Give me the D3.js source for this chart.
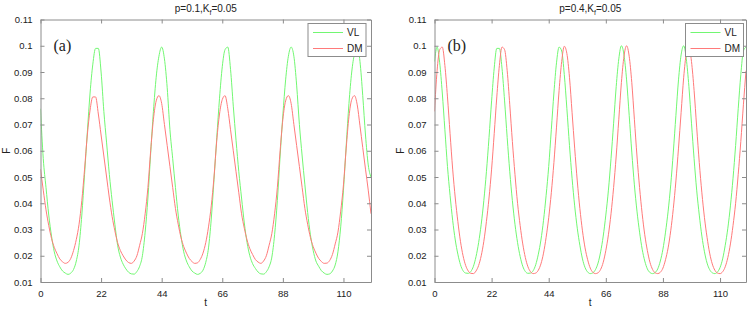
<!DOCTYPE html>
<html>
<head>
<meta charset="utf-8">
<script src="https://cdn.jsdelivr.net/npm/d3@7"></script>
<style>
  body { margin: 0; background: #fff; }
  text { font-family: "Liberation Sans", Arial, sans-serif; }
  text.tag { font-family: "Liberation Serif", "Times New Roman", serif; }
</style>
</head>
<body>
<svg id="chart" width="749" height="310"></svg>
<script>
// time grid (one sample per unit of t)
const tValues = d3.range(0, 121);

// panel (a): p=0.1
const vlA = [
  0.076,0.057,0.046,0.0355,0.0275,0.0215,0.018,0.0158,0.0142,0.0134,
  0.0129,0.0134,0.0148,0.018,0.024,0.0355,0.051,0.067,0.082,0.093,
  0.099,0.099,0.090,0.075,0.063,0.051,0.041,0.032,0.024,0.0195,
  0.0168,0.015,0.0137,0.0131,0.013,0.014,0.016,0.020,0.029,0.042,
  0.059,0.075,0.088,0.096,0.0995,0.095,0.084,0.068,0.057,0.046,
  0.0355,0.0275,0.0215,0.018,0.0158,0.0142,0.0134,0.0129,0.0133,0.0145,
  0.0175,0.023,0.034,0.049,0.065,0.080,0.092,0.0985,0.0995,0.091,
  0.077,0.064,0.052,0.042,0.0325,0.025,0.020,0.017,0.0152,0.0138,
  0.0131,0.0130,0.0139,0.0158,0.0195,0.028,0.041,0.058,0.0736,0.087,
  0.096,0.0995,0.096,0.085,0.070,0.058,0.047,0.0365,0.028,0.022,
  0.018,0.016,0.0143,0.0134,0.0129,0.0131,0.0142,0.0165,0.0215,0.031,
  0.045,0.062,0.078,0.090,0.097,0.100,0.094,0.081,0.066,0.0546,
  0.050
];
const dmA = [
  0.053,0.045,0.0375,0.0315,0.0266,0.0232,0.0208,0.0188,0.0177,0.0171,
  0.0175,0.019,0.022,0.0262,0.032,0.041,0.053,0.066,0.0755,0.0805,
  0.0805,0.074,0.066,0.058,0.050,0.042,0.035,0.0295,0.025,0.022,
  0.020,0.0184,0.0174,0.0171,0.018,0.020,0.024,0.0285,0.036,0.046,
  0.060,0.072,0.079,0.081,0.078,0.070,0.062,0.054,0.046,0.038,
  0.032,0.027,0.0235,0.021,0.019,0.0178,0.0171,0.0173,0.0186,0.021,
  0.025,0.031,0.039,0.050,0.064,0.074,0.0795,0.081,0.076,0.068,
  0.060,0.052,0.044,0.036,0.0305,0.026,0.0227,0.0205,0.0186,0.0176,
  0.0171,0.018,0.020,0.024,0.0285,0.036,0.046,0.060,0.072,0.079,
  0.081,0.078,0.070,0.062,0.054,0.046,0.038,0.032,0.027,0.0235,
  0.021,0.019,0.0178,0.0171,0.0172,0.0182,0.0205,0.0245,0.029,0.037,
  0.047,0.061,0.073,0.0795,0.081,0.0775,0.0695,0.0612,0.053,0.045,
  0.036
];

// panel (b): p=0.4
const vlB = [
  0.094,0.0995,0.0935,0.082,0.068,0.054,0.043,0.0335,0.026,0.0206,
  0.0166,0.0143,0.0134,0.0133,0.014,0.016,0.0197,0.025,0.032,0.041,
  0.052,0.065,0.079,0.0915,0.099,0.099,0.0915,0.079,0.065,0.052,
  0.041,0.032,0.025,0.0197,0.016,0.014,0.0133,0.0134,0.0143,0.0166,
  0.0206,0.026,0.0335,0.043,0.054,0.068,0.082,0.0935,0.0995,0.098,
  0.089,0.076,0.062,0.0495,0.039,0.0305,0.024,0.0188,0.0155,0.0138,
  0.0132,0.0135,0.0147,0.0172,0.0215,0.0275,0.0355,0.045,0.057,0.0705,
  0.0845,0.095,0.100,0.0965,0.087,0.0735,0.0595,0.047,0.037,0.029,
  0.0225,0.018,0.015,0.0136,0.0132,0.0136,0.015,0.018,0.0225,0.029,
  0.037,0.047,0.0595,0.0735,0.087,0.0965,0.100,0.095,0.0845,0.0705,
  0.057,0.045,0.0355,0.0275,0.0215,0.0172,0.0147,0.0135,0.0132,0.0138,
  0.0155,0.0188,0.024,0.0305,0.039,0.0495,0.062,0.076,0.089,0.098,
  0.0995
];
const dmB = [
  0.075,0.0905,0.0985,0.0995,0.0925,0.0805,0.0665,0.053,0.042,0.033,
  0.0255,0.020,0.0163,0.0142,0.0133,0.0132,0.0142,0.0163,0.020,0.0255,
  0.033,0.042,0.053,0.0665,0.0805,0.0925,0.0995,0.0985,0.0905,0.0775,
  0.0635,0.051,0.040,0.0315,0.0245,0.0193,0.0158,0.0139,0.0132,0.0134,
  0.0145,0.0169,0.021,0.027,0.0345,0.044,0.0555,0.069,0.083,0.094,
  0.0998,0.097,0.088,0.0745,0.061,0.0485,0.038,0.0295,0.023,0.0185,
  0.0153,0.0137,0.0132,0.0135,0.0148,0.0175,0.022,0.028,0.036,0.046,
  0.058,0.072,0.086,0.096,0.100,0.096,0.086,0.072,0.058,0.046,
  0.036,0.028,0.022,0.0175,0.0148,0.0135,0.0132,0.0137,0.0153,0.0185,
  0.023,0.0295,0.038,0.0485,0.061,0.0745,0.088,0.097,0.0998,0.094,
  0.083,0.069,0.0555,0.044,0.0345,0.027,0.021,0.0169,0.0145,0.0134,
  0.0132,0.0139,0.0158,0.0193,0.0245,0.0315,0.040,0.051,0.0635,0.0775,
  0.0905
];

const xTicks = [0, 22, 44, 66, 88, 110];
const yTicks = [0.01, 0.02, 0.03, 0.04, 0.05, 0.06, 0.07, 0.08, 0.09, 0.1, 0.11];
const seriesNames = ['VL', 'DM'];
const seriesColors = ['#72f772', '#ff7a7a'];

const svg = d3.select('#chart');
const plotTop = 19.5, plotBottom = 282;
const axisColor = '#8c8c8c';
const labelColor = '#222';

const panels = [
  { left: 40.5, right: 371, p: '0.1', tag: '(a)', vl: vlA, dm: dmA, legX: 308 },
  { left: 434.5, right: 746, p: '0.4', tag: '(b)', vl: vlB, dm: dmB, legX: 685.5 }
];

panels.forEach((pn, i) => {
  const x = d3.scaleLinear().domain([0, 120]).range([pn.left, pn.right]);
  const y = d3.scaleLinear().domain([0.01, 0.11]).range([plotBottom, plotTop]);
  const g = svg.append('g');

  // clip the curves to the plot box
  const clipId = 'clip' + i;
  svg.append('clipPath').attr('id', clipId)
    .append('rect')
    .attr('x', pn.left).attr('y', plotTop)
    .attr('width', pn.right - pn.left).attr('height', plotBottom - plotTop);

  // curves
  const line = d3.line()
    .x((d, j) => x(tValues[j]))
    .y(d => y(d))
    .curve(d3.curveMonotoneX);
  [pn.vl, pn.dm].forEach((vals, k) => {
    g.append('path')
      .attr('d', line(vals))
      .attr('fill', 'none')
      .attr('stroke', seriesColors[k])
      .attr('stroke-width', 1)
      .attr('clip-path', `url(#${clipId})`);
  });

  // axes: bottom/left with labels, top/right ticks only (ticks point inside)
  const fmtY = d => d3.format('.2~f')(d);
  const axB = g.append('g').attr('transform', `translate(0,${plotBottom})`)
    .call(d3.axisBottom(x).tickValues(xTicks).tickSizeInner(-4).tickSizeOuter(0).tickPadding(8));
  const axT = g.append('g').attr('transform', `translate(0,${plotTop})`)
    .call(d3.axisTop(x).tickValues(xTicks).tickSizeInner(-4).tickSizeOuter(0).tickFormat(''));
  const axL = g.append('g').attr('transform', `translate(${pn.left},0)`)
    .call(d3.axisLeft(y).tickValues(yTicks).tickSizeInner(-4).tickSizeOuter(0).tickPadding(8).tickFormat(fmtY));
  const axR = g.append('g').attr('transform', `translate(${pn.right},0)`)
    .call(d3.axisRight(y).tickValues(yTicks).tickSizeInner(-4).tickSizeOuter(0).tickFormat(''));
  [axB, axT, axL, axR].forEach(a => {
    a.select('.domain').attr('stroke', axisColor);
    a.selectAll('.tick line').attr('stroke', axisColor);
    a.selectAll('.tick text').attr('fill', labelColor)
      .attr('font-size', '9.5px');
  });

  // title with subscript
  const title = g.append('text')
    .attr('x', (pn.left + pn.right) / 2).attr('y', 12)
    .attr('text-anchor', 'middle').attr('font-size', '10px').attr('fill', labelColor);
  title.append('tspan').text(`p=${pn.p},K`);
  title.append('tspan').text('f').attr('font-size', '7px').attr('dy', 2.5);
  title.append('tspan').text('=0.05').attr('dy', -2.5);

  // axis names
  g.append('text')
    .attr('transform', `translate(${pn.left - 31},${(plotTop + plotBottom) / 2}) rotate(-90)`)
    .attr('text-anchor', 'middle').attr('font-size', '10px').attr('fill', labelColor)
    .text('F');
  g.append('text')
    .attr('x', (pn.left + pn.right) / 2).attr('y', 306)
    .attr('text-anchor', 'middle').attr('font-size', '10px').attr('fill', labelColor)
    .text('t');

  // panel tag
  g.append('text')
    .attr('class', 'tag')
    .attr('x', pn.left + 13).attr('y', 51)
    .attr('font-size', '16px').attr('fill', '#222')
    .text(pn.tag);

  // legend
  const leg = g.append('g').attr('transform', `translate(${pn.legX},23.5)`);
  leg.append('rect').attr('width', 58).attr('height', 33)
    .attr('fill', '#fff').attr('stroke', axisColor);
  seriesNames.forEach((nm, k) => {
    const ly = 9 + k * 16;
    leg.append('line')
      .attr('x1', 5).attr('x2', 35).attr('y1', ly).attr('y2', ly)
      .attr('stroke', seriesColors[k]).attr('stroke-width', 1);
    leg.append('text')
      .attr('x', 39).attr('y', ly + 3.5)
      .attr('font-size', '10px').attr('fill', labelColor)
      .text(nm);
  });
});
</script>
</body>
</html>
